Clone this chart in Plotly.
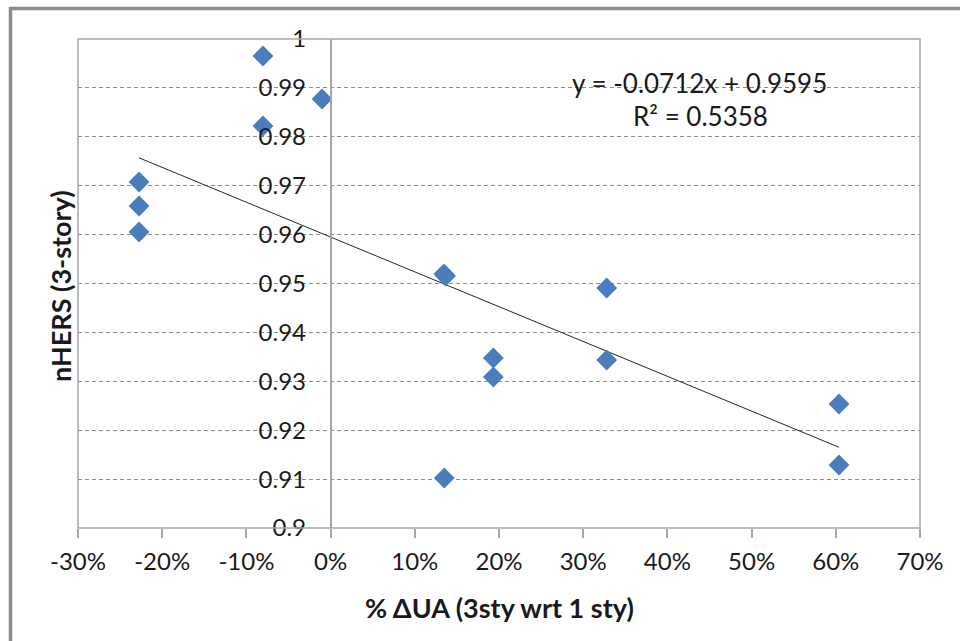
import plotly.graph_objects as go

# Data (x as fraction of % ΔUA, y = nHERS 3-story)
du_a = [-0.0803, -0.0803, -0.0102, -0.2275, -0.2275, -0.2275, 0.1345, 0.1365,
        0.1933, 0.1933, 0.3279, 0.3279, 0.6038, 0.6038, 0.1350]
nhers = [0.99652, 0.98221, 0.98773, 0.97076, 0.96585, 0.96053, 0.95194, 0.95153,
         0.93476, 0.93088, 0.94908, 0.93436, 0.92536, 0.91288, 0.91022]

slope = -0.0712
intercept = 0.9595
r2 = 0.5358

x_ticks = [-0.3, -0.2, -0.1, 0.0, 0.1, 0.2, 0.3, 0.4, 0.5, 0.6, 0.7]
x_tick_labels = ["-30%", "-20%", "-10%", "0%", "10%", "20%", "30%", "40%", "50%", "60%", "70%"]
y_ticks = [0.9, 0.91, 0.92, 0.93, 0.94, 0.95, 0.96, 0.97, 0.98, 0.99, 1.0]
y_tick_labels = ["0.9", "0.91", "0.92", "0.93", "0.94", "0.95", "0.96", "0.97", "0.98", "0.99", "1"]

FONT = "Lato"
TXT = "#1a1a1a"
GRID = "#8c8c8c"
AXC = "#a6a6a6"

trend_x = [min(du_a), max(du_a)]
trend_y = [slope * v + intercept for v in trend_x]

fig = go.Figure()
fig.add_trace(go.Scatter(x=trend_x, y=trend_y, mode="lines",
                         line=dict(color="#262626", width=1), hoverinfo="skip",
                         showlegend=False))
fig.add_trace(go.Scatter(x=du_a, y=nhers, mode="markers",
                         marker=dict(symbol="diamond", size=16, color="#4A7EBB",
                                     line=dict(width=0)),
                         showlegend=False))

W, H = 960, 641
L, R, T, B = 78, 920, 39, 528

def px(xp):
    return (xp - L) / (R - L)

def py(yp):
    return (B - yp) / (B - T)

def ann(text, x, y, size, angle=0):
    return dict(text=text, x=px(x), y=py(y), xref="paper", yref="paper",
                xanchor="center", yanchor="middle", showarrow=False,
                textangle=angle, font=dict(family=FONT, size=size, color=TXT))

fig.update_layout(
    width=W, height=H,
    margin=dict(l=L, r=W - R, t=T, b=H - B),
    paper_bgcolor="white", plot_bgcolor="white",
    font=dict(family=FONT, size=24, color=TXT),
    xaxis=dict(range=[-0.3, 0.7], tickvals=x_ticks, ticktext=x_tick_labels,
               showgrid=False, zeroline=False, showline=False,
               ticks="outside", ticklen=9, tickcolor=AXC, tickwidth=1.5,
               ticklabelstandoff=3,
               tickfont=dict(family=FONT, size=24, color=TXT)),
    yaxis=dict(range=[0.9, 1.0], tickvals=y_ticks, ticktext=y_tick_labels,
               anchor="free", position=0.3,
               showgrid=True, gridcolor=GRID, griddash="4px,3px", gridwidth=1,
               zeroline=False, showline=True, linecolor=AXC, linewidth=1.5,
               ticks="", ticklabelstandoff=19,
               tickfont=dict(family=FONT, size=24, color=TXT)),
    shapes=[
        dict(type="rect", xref="paper", yref="paper", x0=0, x1=1, y0=0, y1=1,
             line=dict(color=AXC, width=1.5), layer="above"),
        dict(type="line", xref="paper", yref="paper", x0=px(10), x1=px(962),
             y0=py(8.5), y1=py(8.5), line=dict(color="#8c8c8c", width=3.5)),
        dict(type="line", xref="paper", yref="paper", x0=px(10.5), x1=px(10.5),
             y0=py(7), y1=py(645), line=dict(color="#8c8c8c", width=3.5)),
    ],
    annotations=[
        ann(f"y = {slope}x + {intercept}", 699, 83, 26),
        ann(f"R² = {r2}", 700, 116, 26),
        ann("<b>% ΔUA (3sty wrt 1 sty)</b>", 499, 607, 27),
        ann("<b>nHERS (3-story)</b>", 60, 286, 27, -90),
    ],
)

fig.write_html("out.html", config={"displayModeBar": False},
               post_script="document.body.style.margin='0';document.body.style.overflow='hidden';")
